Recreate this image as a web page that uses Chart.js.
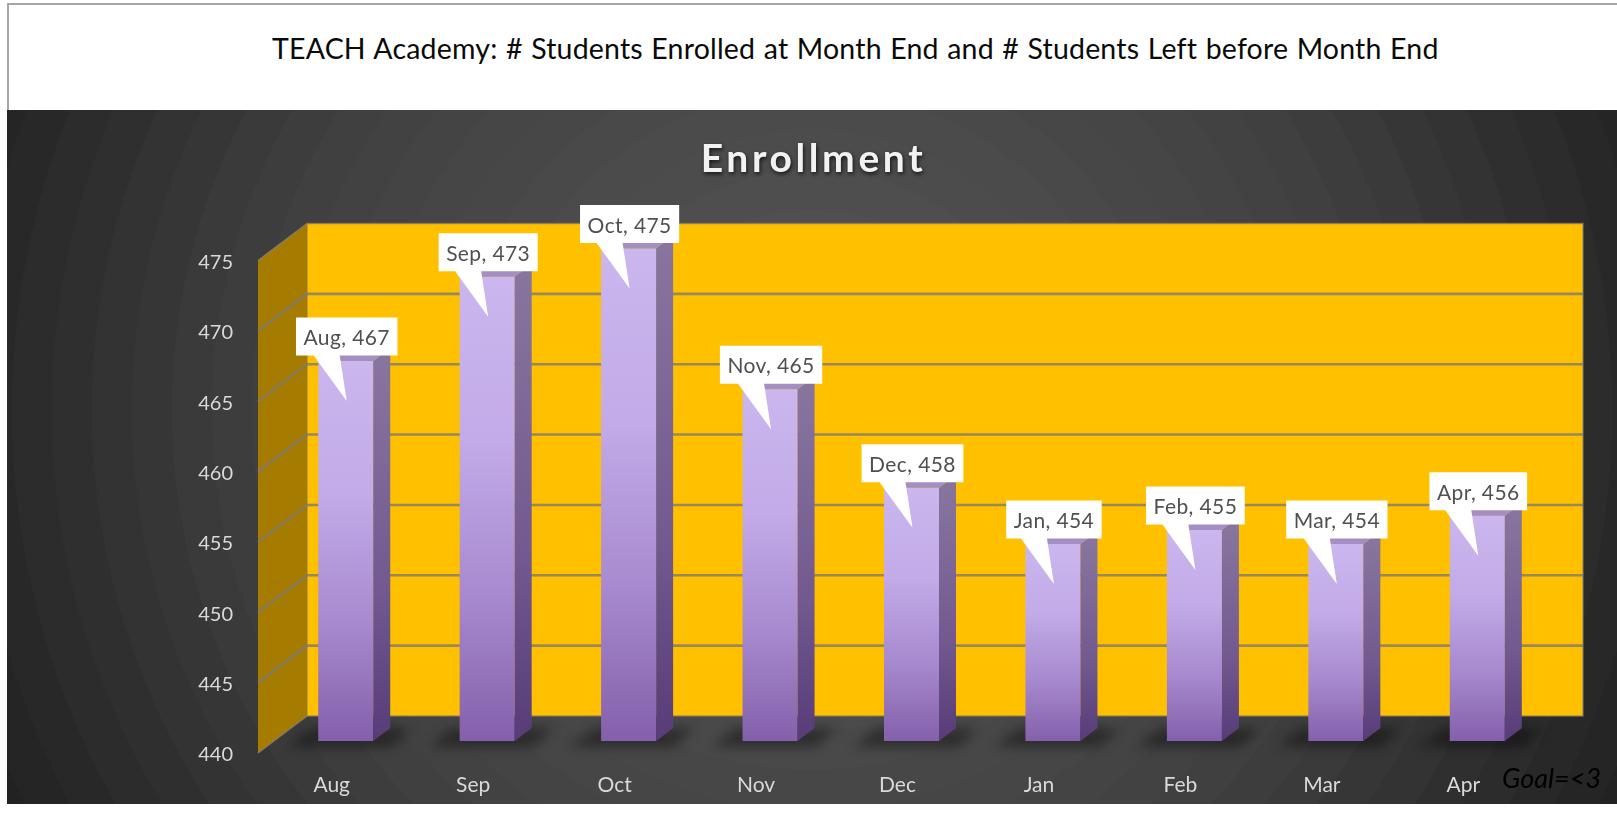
<!DOCTYPE html>
<html>
<head>
<meta charset="utf-8">
<script src="https://cdn.jsdelivr.net/npm/chart.js@4"></script>
<style>
html,body{margin:0;padding:0;background:#fff;width:1617px;height:823px;overflow:hidden;position:relative;font-family:Lato,sans-serif}
#frame{position:absolute;left:7px;top:3px;width:1610px;height:107px;box-sizing:border-box;border-left:2px solid #a6a6a6;border-top:2px solid #a6a6a6}
#head{position:absolute;left:272px;top:28px;font-size:28.5px;line-height:40px;color:#0a0a0a;white-space:nowrap;letter-spacing:.19px;word-spacing:1px}
#wrap{position:absolute;left:7px;top:110px;width:1610px;height:694px;overflow:hidden}
#goal{position:absolute;left:1502px;top:762px;font-size:27px;line-height:32px;font-style:italic;color:#000;white-space:nowrap}
</style>
</head>
<body>
<div id="frame"></div>
<div id="head"></div>
<div id="wrap"><canvas id="c" width="1610" height="697"></canvas></div>
<div id="goal"></div>
<script>
const pageTitle = "TEACH Academy: # Students Enrolled at Month End and # Students Left before Month End";
const chartTitle = "Enrollment";
const goalNote = "Goal=<3";
const categories = ["Aug","Sep","Oct","Nov","Dec","Jan","Feb","Mar","Apr"];
const enrollment = [467,473,475,465,458,454,455,454,456];
const axisMin = 440, axisMax = 475, axisStep = 5;

document.getElementById('head').textContent = pageTitle;
document.getElementById('goal').textContent = goalNote;

const FONT = "Lato, sans-serif";
const floorLift = 12;
const liftUnits = floorLift * (axisMax - axisMin) / 493;
const wall = {dx: 49, dy: -37, leftInset: 17, rightExtra: 35};
const side = {dx: 17, dy: -13};

function poly(ctx, pts, fill){
  ctx.beginPath();
  pts.forEach((p,i)=> i ? ctx.lineTo(p[0],p[1]) : ctx.moveTo(p[0],p[1]));
  ctx.closePath();
  if(fill){ ctx.fillStyle = fill; ctx.fill(); }
}

const ramp = [[0,0x57],[490,0x43],[610,0x3b],[830,0x27],[920,0x20]];
function greyAt(r){
  for(let i=1;i<ramp.length;i++){
    if(r<=ramp[i][0]){
      const a=ramp[i-1],b=ramp[i];
      return Math.round(a[1]+(b[1]-a[1])*(r-a[0])/(b[0]-a[0]));
    }
  }
  return ramp[ramp.length-1][1];
}

const scene = {
  id: 'scene',
  afterInit(chart){
    const t = chart.titleBlock, orig = t.draw;
    t.draw = function(){
      const ctx = chart.ctx;
      ctx.save();
      ctx.translate(36,1);
      ctx.letterSpacing = '3.6px';
      ctx.shadowColor = 'rgba(0,0,0,.75)';
      ctx.shadowBlur = 4; ctx.shadowOffsetX = 1; ctx.shadowOffsetY = 2;
      orig.apply(t, arguments);
      ctx.restore();
    };
  },
  beforeDraw(chart){
    const {ctx, width, height} = chart;
    const R = 920, band = 40;
    const g = ctx.createRadialGradient(805,300,0,805,300,R);
    for(let r=0;r<R;r+=band){
      const v = greyAt(r+band/2), c = 'rgb('+v+','+v+','+v+')';
      g.addColorStop(r/R,c);
      g.addColorStop(Math.min(1,(r+band)/R),c);
    }
    ctx.fillStyle = g;
    ctx.fillRect(0,0,width,height);
  },
  beforeDatasetsDraw(chart){
    const {ctx, chartArea:a, scales:{y}} = chart;
    const L = a.left - wall.leftInset, B = y.getPixelForValue(axisMin), T = y.getPixelForValue(axisMax);
    const bx = L + wall.dx, R = a.right + wall.rightExtra, by = B + wall.dy, ty = T + wall.dy;
    ctx.save();
    poly(ctx, [[bx,ty],[R,ty],[R,by],[bx,by]], '#FFC000');
    ctx.strokeStyle = 'rgba(130,125,110,.7)'; ctx.lineWidth = 1.5; ctx.stroke();
    poly(ctx, [[L,T],[bx,ty],[bx,by],[L,B]], '#A67C00');
    ctx.strokeStyle = 'rgba(135,130,115,.8)'; ctx.lineWidth = 1.5;
    ctx.beginPath(); ctx.moveTo(L,T); ctx.lineTo(bx,ty); ctx.moveTo(L,B); ctx.lineTo(bx,by); ctx.stroke();
    ctx.filter = 'blur(.6px)';
    y.ticks.forEach(tk=>{
      if(tk.value === axisMin || tk.value === axisMax) return;
      const py = y.getPixelForValue(tk.value);
      ctx.strokeStyle = 'rgba(125,122,112,.8)'; ctx.lineWidth = 2.6;
      ctx.beginPath(); ctx.moveTo(L,py); ctx.lineTo(bx,py+wall.dy); ctx.lineTo(R,py+wall.dy); ctx.stroke();
    });
    ctx.filter = 'blur(6px)';
    chart.getDatasetMeta(0).data.forEach(bar=>{
      const c = bar.x, b = bar.base;
      poly(ctx, [[c-58,b+6],[c-34,b-13],[c+66,b-13],[c+46,b+6]], 'rgba(0,0,0,.38)');
    });
    ctx.restore();
  },
  afterDatasetsDraw(chart){
    const {ctx} = chart;
    const bars = chart.getDatasetMeta(0).data;
    ctx.save();
    bars.forEach(bar=>{
      const r = bar.x + bar.width/2, l = bar.x - bar.width/2, t = bar.y, b = bar.base;
      const g = ctx.createLinearGradient(0,t,0,b);
      g.addColorStop(0,'#87759E'); g.addColorStop(.6,'#72598F'); g.addColorStop(1,'#573C78');
      poly(ctx, [[r,t],[r+side.dx,t+side.dy],[r+side.dx,b+side.dy],[r,b]], g);
      poly(ctx, [[l,t],[l+side.dx,t+side.dy],[r+side.dx,t+side.dy],[r,t]], '#A48FC2');
    });
    ctx.font = "21px " + FONT;
    ctx.letterSpacing = '.4px';
    ctx.textBaseline = 'middle';
    ctx.textAlign = 'left';
    bars.forEach((bar,i)=>{
      const text = categories[i] + ', ' + enrollment[i];
      const tw = ctx.measureText(text).width, w = tw + 15, h = 38;
      const c = bar.x + 1, bot = bar.y - 5.5, top = bot - h;
      poly(ctx, [[c-w/2,top],[c+w/2,top],[c+w/2,bot],[c-7,bot],[c,bar.y+40],[c-33,bot],[c-w/2,bot]], '#fff');
      ctx.fillStyle = '#505050';
      ctx.fillText(text, c-tw/2, top+h/2+2);
    });
    ctx.restore();
  }
};

new Chart(document.getElementById('c'), {
  type: 'bar',
  data: {
    labels: categories,
    datasets: [{
      label: chartTitle,
      data: enrollment,
      base: axisMin,
      yAxisID: 'y2',
      clip: false,
      categoryPercentage: 1,
      barPercentage: 0.389,
      backgroundColor(ctx){
        const chart = ctx.chart;
        if(!chart.chartArea || ctx.dataIndex === undefined) return '#A98BD0';
        const s = chart.scales.y2;
        const g = chart.ctx.createLinearGradient(0, s.getPixelForValue(enrollment[ctx.dataIndex]), 0, s.getPixelForValue(axisMin));
        g.addColorStop(0,'#CBB6EE'); g.addColorStop(.35,'#C2ABE8'); g.addColorStop(.7,'#A688CE'); g.addColorStop(1,'#8460AA');
        return g;
      }
    }]
  },
  plugins: [scene],
  options: {
    responsive: false,
    animation: false,
    layout: {padding: {left:0, right:69, top:0, bottom:0}},
    plugins: {
      legend: {display:false},
      tooltip: {enabled:false},
      title: {
        display: true,
        text: chartTitle,
        color: '#F2F2F2',
        font: {family: FONT, size: 39, weight: 'bold', lineHeight: 1.2},
        padding: {top: 25, bottom: 78.7}
      }
    },
    scales: {
      x: {
        grid: {display:false, drawTicks:false},
        border: {display:false},
        ticks: {color:'#D9D9D9', font:{family:FONT,size:21}, padding:20, labelOffset:-14, maxRotation:0, autoSkip:false},
        afterFit(s){ s.height = 45; }
      },
      y: {
        min: axisMin, max: axisMax,
        grid: {display:false, drawTicks:false},
        border: {display:false},
        ticks: {stepSize: axisStep, color:'#D9D9D9', font:{family:FONT,size:20}, padding:42, labelOffset:2},
        afterFit(s){ s.width = 268; }
      },
      y2: {
        display: false,
        min: axisMin - liftUnits, max: axisMax - liftUnits
      }
    }
  }
});
</script>
</body>
</html>
